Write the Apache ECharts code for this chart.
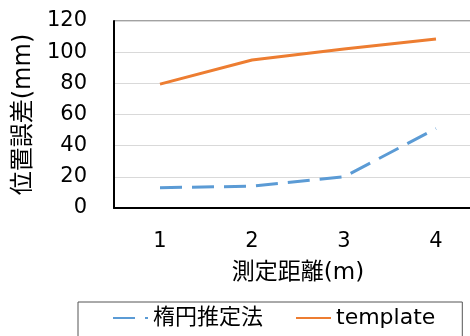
<!DOCTYPE html>
<html><head><meta charset="utf-8">
<script src="https://cdn.jsdelivr.net/npm/echarts@6/dist/echarts.min.js"></script>
<style>html,body{margin:0;padding:0;background:#fff}#c{width:470px;height:336px}</style>
</head><body><div id="c"></div>
<script>
var categories = ['1', '2', '3', '4'];
var ellipseValues = [13, 14, 20, 51];
var templateValues = [79.5, 95, 102, 108.5];
var seriesNames = ['楕円推定法', 'template'];
var yTicks = {min: 0, max: 120, interval: 20};

var FONT = '"DejaVu Sans", "Noto Sans CJK JP", sans-serif';
var chart = echarts.init(document.getElementById('c'), null, {renderer: 'canvas'});
chart.setOption({
  animation: false,
  textStyle: {fontFamily: FONT},
  grid: {left: 114, top: 21, right: -12, bottom: 128, containLabel: false,
         outerBoundsMode: 'none',
         show: true, borderColor: '#444', borderWidth: 1, backgroundColor: 'transparent'},
  legend: {
    data: seriesNames,
    left: 78, top: 302,
    padding: [5, 27, 20, 34],
    borderColor: '#555', borderWidth: 1,
    itemWidth: 35, itemHeight: 14, itemGap: 32,
    itemStyle: {opacity: 0},
    textStyle: {fontFamily: FONT, fontSize: 22, color: '#000'}
  },
  xAxis: {
    type: 'category', data: categories, boundaryGap: true,
    axisLine: {lineStyle: {color: '#000', width: 2}},
    axisTick: {show: false},
    axisLabel: {color: '#000', fontSize: 21, margin: 23, fontFamily: FONT},
    name: '測定距離(m)', nameLocation: 'middle', nameGap: 54,
    nameTextStyle: {color: '#000', fontSize: 23, fontFamily: FONT}
  },
  yAxis: {
    type: 'value', min: yTicks.min, max: yTicks.max, interval: yTicks.interval,
    axisLine: {show: true, lineStyle: {color: '#000', width: 2}},
    axisTick: {show: false},
    splitLine: {lineStyle: {color: '#d9d9d9', width: 1}},
    axisLabel: {color: '#000', fontSize: 21, margin: 27, fontFamily: FONT},
    name: '位置誤差(mm)', nameLocation: 'middle', nameGap: 72, nameRotate: 90,
    nameTextStyle: {color: '#000', fontSize: 24, fontFamily: FONT}
  },
  series: [{
    name: seriesNames[0], type: 'line', data: ellipseValues,
    symbol: 'none', color: '#5B9BD5',
    lineStyle: {color: '#5B9BD5', width: 3, type: [22, 10], cap: 'butt'}
  }, {
    name: seriesNames[1], type: 'line', data: templateValues,
    symbol: 'none', color: '#ED7D31',
    lineStyle: {color: '#ED7D31', width: 3}
  }]
});
</script></body></html>
